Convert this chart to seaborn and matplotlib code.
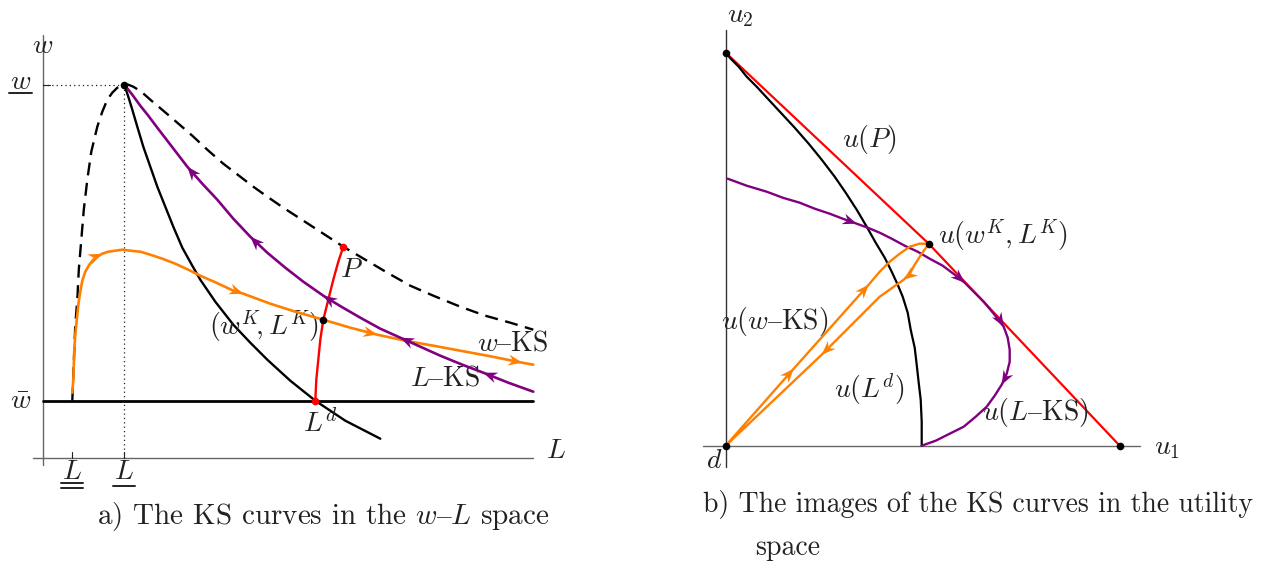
import numpy as np
import matplotlib
matplotlib.use("Agg")
import matplotlib.pyplot as plt
import seaborn as sns

sns.set_theme(style="white")
plt.rcParams["font.family"] = ["cmr10", "DejaVu Serif"]
plt.rcParams["mathtext.fontset"] = "cm"
plt.rcParams["axes.unicode_minus"] = False

# ---------------- panel a: the w-L space ----------------
w_bar = 0.57          # reservation wage
w_top = 3.73          # highest wage on the boundary
L_low = 0.81          # employment at the peak
L_lowest = 0.29       # lowest employment level

# boundary of the feasible set (dashed)
bound_L = [0.29, 0.30, 0.31, 0.32, 0.34, 0.355, 0.38, 0.405, 0.44, 0.48, 0.54,
           0.59, 0.64, 0.69, 0.74, 0.78, 0.81, 0.85, 0.90, 0.98, 1.07, 1.20,
           1.34, 1.49, 1.64, 1.80, 1.97, 2.10, 2.24, 2.40, 2.57, 2.77, 3.00,
           3.22, 3.44, 3.67, 3.90, 4.17, 4.42, 4.67, 4.90]
bound_w = [0.57, 0.83, 1.08, 1.33, 1.58, 1.88, 2.18, 2.48, 2.78, 3.06, 3.31,
           3.46, 3.58, 3.65, 3.70, 3.72, 3.73, 3.73, 3.71, 3.66, 3.58, 3.47,
           3.35, 3.22, 3.08, 2.94, 2.81, 2.71, 2.61, 2.50, 2.39, 2.26, 2.11,
           1.98, 1.85, 1.72, 1.62, 1.51, 1.42, 1.35, 1.28]

# labour demand curve
ld_L = [0.81, 0.85, 0.89, 0.94, 1.00, 1.07, 1.14, 1.22, 1.30, 1.39, 1.49,
        1.57, 1.72, 1.90, 2.07, 2.24, 2.47, 2.72, 3.02, 3.37]
ld_w = [3.73, 3.61, 3.48, 3.31, 3.11, 2.91, 2.71, 2.51, 2.31, 2.10, 1.92,
        1.78, 1.56, 1.33, 1.15, 0.98, 0.77, 0.57, 0.37, 0.19]

# contract curve between P and L^d
cc_L = [3.00, 2.95, 2.90, 2.85, 2.80, 2.77, 2.75, 2.73, 2.72]
cc_w = [2.11, 1.96, 1.78, 1.58, 1.38, 1.18, 0.98, 0.78, 0.57]

# w-KS curve
wks_L = [0.29, 0.30, 0.305, 0.31, 0.32, 0.335, 0.35, 0.37, 0.39, 0.42, 0.46,
         0.50, 0.54, 0.59, 0.65, 0.72, 0.79, 0.87, 0.97, 1.07, 1.19, 1.32,
         1.45, 1.57, 1.73, 1.90, 2.00, 2.27, 2.52, 2.80, 3.07, 3.34, 3.62,
         3.90, 4.17, 4.44, 4.79, 4.90]
wks_w = [0.65, 0.78, 0.93, 1.08, 1.23, 1.38, 1.53, 1.66, 1.77, 1.86, 1.93,
         1.98, 2.01, 2.04, 2.06, 2.07, 2.08, 2.07, 2.06, 2.03, 1.99, 1.94,
         1.88, 1.82, 1.75, 1.67, 1.64, 1.54, 1.46, 1.38, 1.30, 1.23, 1.17,
         1.12, 1.07, 1.02, 0.95, 0.93]

# L-KS curve
lks_L = [0.81, 0.89, 0.97, 1.05, 1.14, 1.24, 1.34, 1.44, 1.59, 1.74, 1.90,
         2.07, 2.24, 2.42, 2.60, 2.80, 2.98, 3.17, 3.37, 3.57, 3.77, 3.97,
         4.19, 4.40, 4.65, 4.90]
lks_w = [3.73, 3.63, 3.52, 3.42, 3.30, 3.17, 3.04, 2.91, 2.74, 2.58, 2.39,
         2.21, 2.05, 1.90, 1.76, 1.62, 1.51, 1.40, 1.29, 1.20, 1.11, 1.02,
         0.93, 0.85, 0.75, 0.66]

wK_pt = (2.80, 1.38)
P_pt = (3.00, 2.11)
Ld_pt = (2.72, 0.57)

# ---------------- panel b: the utility space ----------------
front_u1 = [0.00, 2.03, 3.94]
front_u2 = [3.93, 2.02, 0.00]

uld_u1 = [0.00, 0.05, 0.13, 0.21, 0.31, 0.43, 0.56, 0.69, 0.83, 0.96, 1.09,
          1.20, 1.31, 1.41, 1.50, 1.59, 1.66, 1.72, 1.77, 1.82, 1.85, 1.89,
          1.91, 1.93, 1.95, 1.96, 1.96]
uld_u2 = [3.93, 3.87, 3.79, 3.69, 3.59, 3.46, 3.32, 3.18, 3.02, 2.86, 2.69,
          2.53, 2.36, 2.19, 2.03, 1.88, 1.74, 1.61, 1.49, 1.33, 1.16, 0.98,
          0.81, 0.63, 0.46, 0.24, 0.00]

ulks_u1 = [0.02, 0.21, 0.41, 0.57, 0.74, 0.89, 1.04, 1.17, 1.31, 1.42, 1.54,
           1.66, 1.79, 1.92, 2.04, 2.17, 2.29, 2.39, 2.48, 2.58, 2.68, 2.78,
           2.82, 2.84, 2.84, 2.81, 2.76, 2.69, 2.61, 2.50, 2.38, 2.24, 2.10,
           1.96]
ulks_u2 = [2.67, 2.60, 2.54, 2.48, 2.43, 2.37, 2.32, 2.27, 2.22, 2.18, 2.13,
           2.07, 2.00, 1.94, 1.87, 1.80, 1.71, 1.63, 1.54, 1.44, 1.32, 1.19,
           1.08, 0.96, 0.84, 0.72, 0.61, 0.50, 0.39, 0.29, 0.19, 0.12, 0.05,
           0.00]

uwks_u1 = [0.00, 0.68, 1.43, 1.54, 1.64, 1.74, 1.84, 1.94, 2.03, 2.01, 1.96,
           1.89, 1.84, 1.78, 1.54, 0.96, 0.00]
uwks_u2 = [0.00, 0.77, 1.61, 1.74, 1.84, 1.92, 1.99, 2.02, 2.02, 1.99, 1.92,
           1.81, 1.72, 1.66, 1.49, 0.91, 0.00]

uK_pt = (2.03, 2.02)

ORANGE = "#FF8000"
PURPLE = "#800080"
RED = "#FF0000"
INK = "#222222"
AXIS = "#666666"
FS = 20


def curve(ax, x, y, color, lw=1.8, ls="-", z=3):
    sns.lineplot(x=np.asarray(x, float), y=np.asarray(y, float), sort=False,
                 estimator=None, ax=ax, color=color, linewidth=lw,
                 linestyle=ls, zorder=z)


def heads(ax, x, y, idx, color, reverse=False, length=0.14, half=0.055):
    """Stealth arrowheads at chosen vertices, aligned with the curve."""
    x = np.asarray(x, float)
    y = np.asarray(y, float)
    for i in idx:
        a = max(i - 1, 0)
        b = min(i + 1, len(x) - 1)
        d = np.array([x[b] - x[a], y[b] - y[a]])
        if reverse:
            d = -d
        d /= np.hypot(*d)
        n = np.array([-d[1], d[0]])
        tip = np.array([x[i], y[i]])
        back = tip - d * length
        notch = tip - d * length * 0.68
        pts = np.array([tip, back + n * half, notch, back - n * half])
        ax.fill(pts[:, 0], pts[:, 1], color=color, lw=0, zorder=6)


def dot(ax, p, color="black", ms=5.5):
    ax.plot([p[0]], [p[1]], "o", color=color, ms=ms, mec="none", zorder=7)


def label(ax, x, y, s, ha="center", size=FS):
    ax.text(x, y, s, fontsize=size, color=INK, ha=ha, va="center")


fig = plt.figure(figsize=(12.71, 5.69), dpi=100)
fig.patch.set_facecolor("white")

# ---- panel a ----
ax = fig.add_axes([0, 0, 600 / 1271, 1])
ax.set_xlim(-0.433, 5.567)
ax.set_ylim(-1.113, 4.577)
ax.axis("off")

ax.plot([0, 0], [-0.07, 4.23], color=AXIS, lw=1.0, zorder=1)
ax.plot([-0.10, 4.90], [0, 0], color=AXIS, lw=1.0, zorder=1)
for t in (L_lowest, L_low):
    ax.plot([t, t], [0, 0.06], color=INK, lw=0.8, zorder=1)
ax.plot([0, 0.07], [w_top, w_top], color=INK, lw=0.8, zorder=1)
ax.plot([0, L_low], [w_top, w_top], color=INK, lw=0.9, ls=(0, (1, 2.5)), zorder=1)
ax.plot([L_low, L_low], [0, w_top], color=INK, lw=0.9, ls=(0, (1, 2.5)), zorder=1)

ax.plot([0, 4.90], [w_bar, w_bar], color="black", lw=2.0, zorder=2)

curve(ax, bound_L, bound_w, "black", lw=1.7, ls=(0, (5.5, 3.2)))
curve(ax, ld_L, ld_w, "black", lw=1.7)
curve(ax, wks_L, wks_w, ORANGE, lw=1.9, z=4)
curve(ax, lks_L, lks_w, PURPLE, lw=1.9, z=4)
curve(ax, cc_L, cc_w, RED, lw=1.7, z=5)

heads(ax, wks_L, wks_w, [13, 26, 31, 36], ORANGE)
heads(ax, lks_L, lks_w, [7, 11, 15, 19, 23], PURPLE, reverse=True)

dot(ax, (L_low, w_top))
dot(ax, wK_pt)
dot(ax, P_pt, RED)
dot(ax, Ld_pt, RED)

label(ax, -0.01, 4.12, r"$w$")
label(ax, -0.225, w_top + 0.03, r"$w$")
ax.plot([-0.34, -0.11], [3.645, 3.645], color=INK, lw=1.4)
label(ax, -0.225, w_bar - 0.01, r"$\bar{w}$")
label(ax, 5.13, 0.07, r"$L$")
label(ax, L_lowest, -0.14, r"$L$")
ax.plot([0.18, 0.40], [-0.255, -0.255], color=INK, lw=1.4)
ax.plot([0.18, 0.40], [-0.305, -0.305], color=INK, lw=1.4)
label(ax, L_low, -0.14, r"$L$")
ax.plot([0.70, 0.92], [-0.28, -0.28], color=INK, lw=1.4)

label(ax, 3.08, 1.88, r"$P$")
label(ax, 2.20, 1.31, r"$(w^K\!,L^K)$")
label(ax, 4.69, 1.14, r"$w\mathrm{–KS}$")
label(ax, 4.02, 0.79, r"$L\mathrm{–KS}$")
label(ax, 2.77, 0.34, r"$L^d$")
label(ax, 2.80, -0.59, r"a) The KS curves in the $w\mathrm{–}L$ space", size=21)

# ---- panel b ----
bx = fig.add_axes([600 / 1271, 0, 671 / 1271, 1])
bx.set_xlim(-1.257, 5.453)
bx.set_ylim(-1.233, 4.457)
bx.axis("off")

bx.plot([0, 0], [-0.21, 4.16], color="#333333", lw=1.0, zorder=1)
bx.plot([-0.23, 4.14], [0, 0], color=AXIS, lw=1.0, zorder=1)

curve(bx, front_u1, front_u2, RED, lw=1.6, z=3)
curve(bx, uld_u1, uld_u2, "black", lw=1.6, z=3)
curve(bx, ulks_u1, ulks_u2, PURPLE, lw=1.7, z=4)
curve(bx, uwks_u1, uwks_u2, ORANGE, lw=1.7, z=4)

heads(bx, ulks_u1, ulks_u2, [8, 17, 21, 26], PURPLE)
heads(bx, uwks_u1, uwks_u2, [1, 2, 13, 15], ORANGE)

dot(bx, (front_u1[0], front_u2[0]))
dot(bx, (front_u1[-1], front_u2[-1]))
dot(bx, (0, 0))
dot(bx, uK_pt)

label(bx, 0.15, 4.30, r"$u_2$")
label(bx, 4.41, -0.02, r"$u_1$")
label(bx, -0.12, -0.15, r"$d$")
label(bx, 1.44, 3.06, r"$u(P)$")
label(bx, 2.77, 2.10, r"$u(w^K, L^K)$")
label(bx, 0.49, 1.24, r"$u(w\mathrm{–KS})$")
label(bx, 1.44, 0.56, r"$u(L^d)$")
label(bx, 3.10, 0.33, r"$u(L\mathrm{–KS})$")
label(bx, -0.23, -0.59, "b) The images of the KS curves in the utility", ha="left")
label(bx, 0.29, -1.02, "space", ha="left")

fig.savefig("out.png", dpi=100, facecolor="white")
